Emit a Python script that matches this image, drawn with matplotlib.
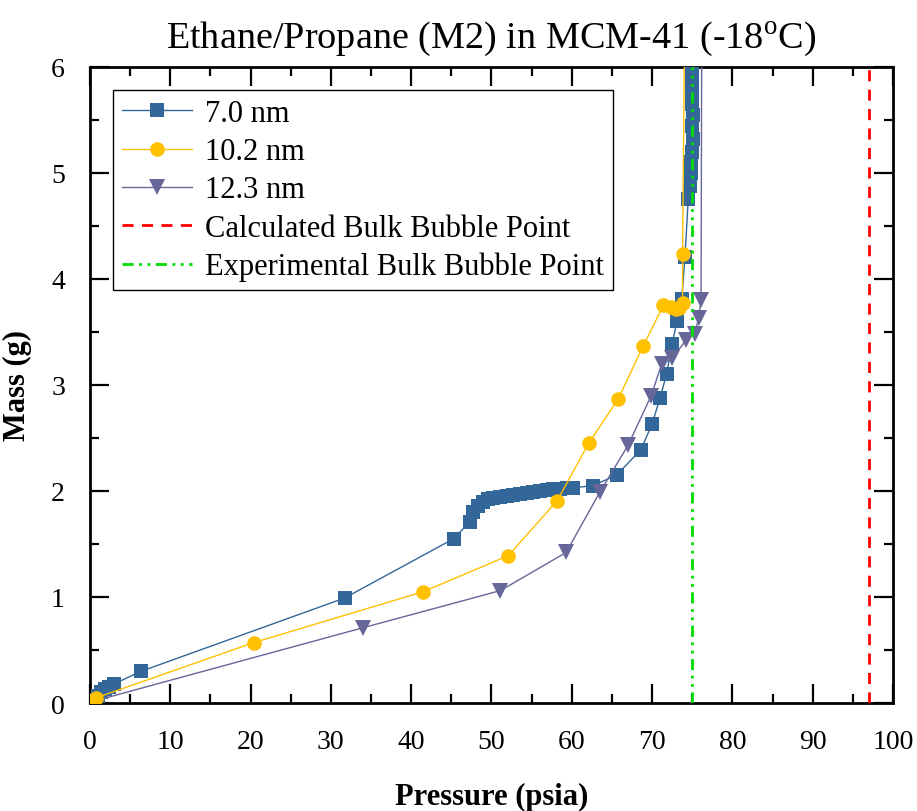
import matplotlib
matplotlib.use("Agg")
import matplotlib.pyplot as plt
from matplotlib.ticker import MultipleLocator

plt.rcParams['font.family'] = ['Liberation Serif', 'DejaVu Serif']
plt.rcParams['mathtext.fontset'] = 'custom'
plt.rcParams['mathtext.rm'] = 'Liberation Serif'

# 7.0 nm
p70 = [0.6, 1.0, 1.4, 1.9, 2.4, 3.0, 6.4, 31.7, 45.3, 47.3, 47.7, 48.3, 48.9, 49.6, 50.2,
       51.1, 51.9, 52.7, 53.5, 54.4, 55.2, 56.0, 56.9, 57.7, 58.5, 59.4, 60.2, 62.6,
       65.6, 68.6, 70.0, 71.0, 71.8, 72.5, 73.1, 73.7, 74.1, 74.5, 74.7, 74.8, 74.9,
       75.0, 75.1, 75.0, 75.1, 75.0, 75.0, 75.0, 75.0, 75.0]
m70 = [0.03, 0.07, 0.10, 0.13, 0.15, 0.18, 0.30, 0.99, 1.55, 1.71, 1.80, 1.86, 1.90, 1.92, 1.93,
       1.94, 1.95, 1.96, 1.97, 1.98, 1.99, 2.00, 2.01, 2.02, 2.02, 2.03, 2.03, 2.05,
       2.15, 2.39, 2.63, 2.88, 3.10, 3.39, 3.60, 3.81, 4.21, 4.75, 4.88, 5.00, 5.10,
       5.20, 5.32, 5.44, 5.55, 5.65, 5.75, 5.85, 5.95, 6.10]

# 10.2 nm
p102 = [0.5, 0.8, 20.4, 41.5, 52.1, 58.2, 62.1, 65.8, 68.9, 71.4, 72.3, 73.0, 73.4, 73.8, 73.8, 74.1]
m102 = [0.03, 0.05, 0.57, 1.05, 1.39, 1.91, 2.45, 2.87, 3.37, 3.75, 3.74, 3.72, 3.73, 3.77, 4.24, 6.8]

# 12.3 nm
p123 = [0.6, 34.0, 51.1, 59.3, 63.5, 67.0, 69.9, 71.2, 72.5, 74.2, 75.3, 75.8, 76.1, 76.2]
m123 = [0.02, 0.71, 1.06, 1.42, 1.99, 2.43, 2.90, 3.20, 3.25, 3.42, 3.48, 3.63, 3.80, 6.8]

calc_bubble = 97.0
exp_bubble = 75.0

fig = plt.figure(figsize=(9.17, 8.12), dpi=100)
ax = fig.add_axes([0.0981, 0.133, 0.8757, 0.7833])

ax.plot(p70, m70, '-', color='#336699', lw=1.0, marker='s', ms=10, mew=0,
        label='7.0 nm', zorder=3)
ax.plot(p102, m102, '-', color='#FFC000', lw=1.0, marker='o', ms=10.5, mew=0,
        label='10.2 nm', zorder=4)
ax.plot(p123, m123, '-', color='#666699', lw=1.0, marker='v', ms=11.5, mew=0,
        label='12.3 nm', zorder=3)
ax.axvline(calc_bubble, color='#FF0000', lw=2, ls=(0, (4, 3)),
           label='Calculated Bulk Bubble Point', zorder=5)
ax.axvline(exp_bubble, color='#00DD00', lw=2, ls=(0, (4, 2, 1, 2, 1, 2)),
           label='Experimental Bulk Bubble Point', zorder=5)

ax.set_xlim(0, 100)
ax.set_ylim(0, 6)
ax.xaxis.set_major_locator(MultipleLocator(10))
ax.xaxis.set_minor_locator(MultipleLocator(5))
ax.yaxis.set_major_locator(MultipleLocator(1))
ax.yaxis.set_minor_locator(MultipleLocator(0.5))
ax.tick_params(which='both', direction='in', top=True, right=True, width=1.6)
ax.tick_params(which='major', length=14, labelsize=20)
ax.tick_params(which='minor', length=6.5)
ax.tick_params(axis='x', which='major', pad=19)
ax.tick_params(axis='y', which='major', pad=18)
ax.tick_params(axis='x', labeltop=False)
ax.tick_params(axis='y', labelright=False)
for s in ax.spines.values():
    s.set_linewidth(2)

ax.set_xlabel('Pressure (psia)', fontsize=22, fontweight='bold', labelpad=20)
ax.set_ylabel('Mass (g)', fontsize=22, fontweight='bold', labelpad=14)
ax.set_title(r'Ethane/Propane (M2) in MCM-41 (-18$^{\rm o}$C)', fontsize=27.5, pad=14)

leg = ax.legend(loc='upper left', fontsize=22, frameon=True, fancybox=False,
                edgecolor='black', framealpha=1, handlelength=2.3,
                borderaxespad=0.75, labelspacing=0.3, borderpad=0.3,
                handletextpad=0.4)
leg.get_frame().set_linewidth(1.0)

fig.savefig('out.png', dpi=100)
